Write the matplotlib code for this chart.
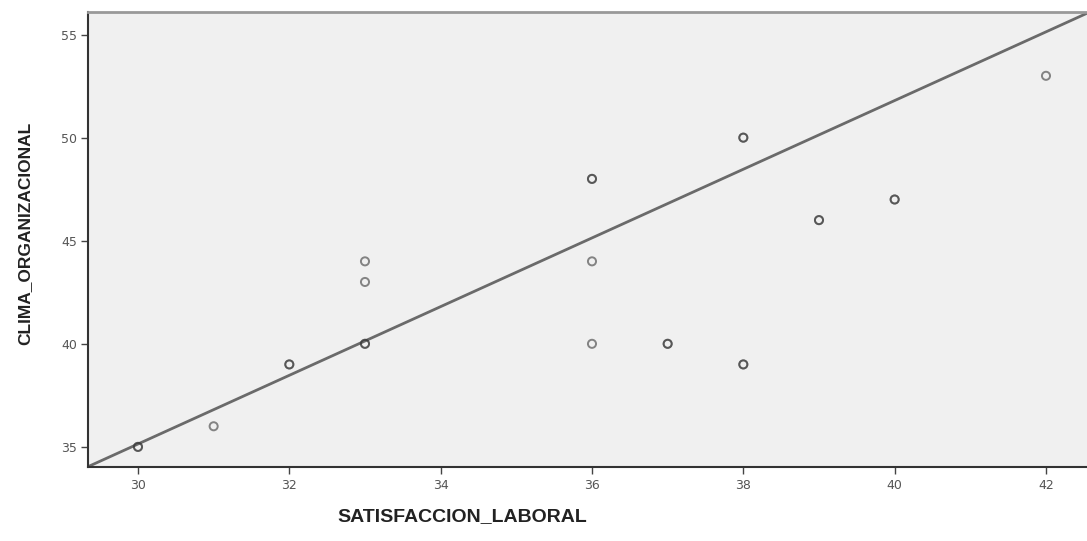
import numpy as np
import matplotlib.pyplot as plt

# datos (puntos repetidos = casos duplicados)
satisfaccion = [30, 30, 31, 32, 32, 33, 33, 33, 33, 36, 36, 36, 36,
                37, 37, 38, 38, 38, 38, 39, 39, 40, 40, 42]
clima = [35, 35, 36, 39, 39, 44, 43, 40, 40, 48, 48, 44, 40,
         40, 40, 50, 50, 39, 39, 46, 46, 47, 47, 53]

# recta de ajuste tal como aparece en la figura
pendiente = 1.666
intercepto = -14.84

xticks = [30, 32, 34, 36, 38, 40, 42]
yticks = [35, 40, 45, 50, 55]

fig = plt.figure(figsize=(10.87, 5.41), dpi=100)
ax = fig.add_axes([0.081, 0.137, 0.93, 0.841])
ax.set_facecolor('#f0f0f0')

ax.set_xlim(29.34, 42.7)
ax.set_ylim(34.03, 56.1)

xs = np.array(ax.get_xlim())
ax.plot(xs, pendiente * xs + intercepto, color='#6a6a6a', lw=2, zorder=2)

ax.scatter(satisfaccion, clima, s=34, facecolors='none', edgecolors='#3a3a3a',
           linewidths=1.4, alpha=0.6, zorder=3)

ax.set_xticks(xticks)
ax.set_yticks(yticks)
ax.tick_params(colors='#444444', labelcolor='#555555', labelsize=9, length=5, width=1)
ax.tick_params(axis='x', pad=4)
ax.tick_params(axis='y', pad=3)

for s in ['left', 'bottom']:
    ax.spines[s].set_color('#333333')
    ax.spines[s].set_linewidth(1.5)
ax.spines['top'].set_color('#999999')
ax.spines['top'].set_linewidth(2)
ax.spines['right'].set_visible(False)

ax.set_xlabel('SATISFACCION_LABORAL', fontsize=14, fontweight='bold',
              family='Liberation Sans', color='#222222')
ax.xaxis.set_label_coords((462 - 88) / (0.93 * 1087), (33 - 74) / (0.841 * 541))
ax.set_ylabel('CLIMA_ORGANIZACIONAL', fontsize=12.5, fontweight='bold',
              family='Liberation Sans', color='#222222')
ax.yaxis.set_label_coords((32 - 88) / (0.93 * 1087), (467 - 233) / (0.841 * 541))

fig.savefig('out.png', dpi=100)
